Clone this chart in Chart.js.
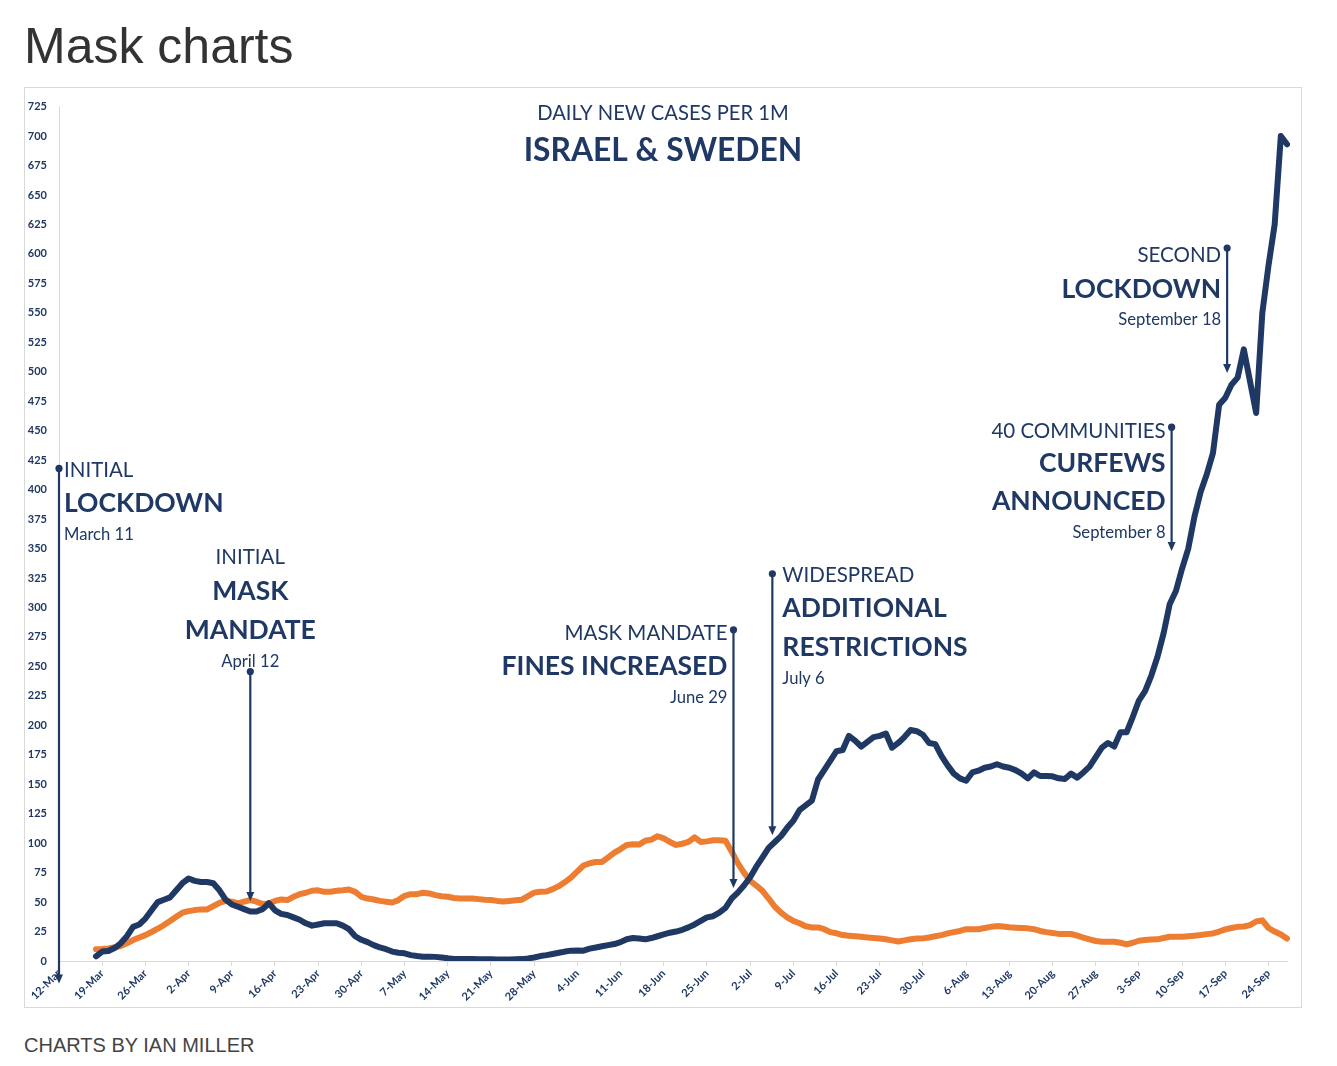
<!DOCTYPE html>
<html><head><meta charset="utf-8">
<script src="https://cdn.jsdelivr.net/npm/chart.js@4.4.0/dist/chart.umd.min.js"></script>
<style>
html,body{margin:0;padding:0;background:#fff;}
#title{position:absolute;left:24px;top:21px;font:50px "Liberation Sans",Arial,sans-serif;color:#333;line-height:50px;white-space:nowrap;}
#box{position:absolute;left:24px;top:87px;width:1278px;height:921px;box-sizing:border-box;border:1px solid #d9d9d9;}
#c{position:absolute;left:0;top:0;}
#foot{position:absolute;left:24px;top:1035px;font:20px "Liberation Sans",Arial,sans-serif;color:#444;line-height:20px;white-space:nowrap;}
</style></head>
<body>
<div id="title">Mask charts</div>
<div id="box"><canvas id="c" width="1276" height="919"></canvas></div>
<div id="foot">CHARTS BY IAN MILLER</div>
<script>
// ---- categories: daily dates 12-Mar .. 27-Sep ----
const months = ['Mar','Apr','May','Jun','Jul','Aug','Sep'];
const monthDays = [31,30,31,30,31,31,30];
const dates = [];
(function(){ let m=0, d=12; while(dates.length<200){ dates.push(d+'-'+months[m]); d++; if(d>monthDays[m]){d=1;m++;} } })();

// ---- series: daily new cases per 1M (7-day avg) ----
const israel = [
 null,null,null,null,null,null,4,8,8.5,11,
 15,21,29,31,36,43,50,52,54,60,
 66,70,68,67,67,66,60,52,48,46,
 44,42,42,44,49,43,40,39,37,35,
 32,30,31,32,32,32,30,27,21,18,
 16,13.5,11.5,10,8,7,6.5,5,4.2,3.7,
 3.7,3.5,3,2.3,1.8,1.7,1.7,1.6,1.5,1.5,
 1.4,1.3,1.3,1.3,1.4,1.6,2.2,3,4.2,5,
 6,7,8,8.8,9,8.8,10.5,11.5,12.5,13.5,
 14.4,16,18.5,19.5,19,18.4,19.5,21,22.5,24,
 25,26.5,28.5,31,34,37,38,41,45,53,
 58,64,71,80,88,96,101,106,113,119,
 128,132,136,154,162,170,178,179,191,187,
 182,186,190,191,193,181,185,190,196,195,
 192,185,184,174,166,159,155,153,160,161.5,
 164,165,167,165,164,162,159,155,160,157,
 157,156.7,155,154.5,159,155.6,160,165,173,181,
 185,182,194,194,207,221,229,242,258,278,
 303,314,333,350,377,398,413,431,472,478,
 489,495,519,492,465,550,590,625,700,693
];
const sweden = [
 null,null,null,null,null,null,10,10.2,10.7,11.6,
 12.7,15,17.8,20,22,24.6,27.4,30.5,33.9,37.5,
 41,42.3,43.2,43.8,43.8,46.6,49.4,51,50.3,48.8,
 50.3,51.7,50.3,48.3,48.8,51,52.2,51.7,54.5,56.7,
 57.9,59.6,60,58.7,58.7,59.6,60,60.7,58.7,54.5,
 53,52.2,51,50.3,49.7,51.7,55.3,56.7,56.7,57.9,
 57.3,55.9,55,54.5,53.5,53,53,53,52.5,52,
 51.7,51,50.5,51,51.5,52,55,58,58.7,59,
 61,63.5,67,71,76,81,83,84,84.1,88,
 92,95,98.5,99,98.8,102,103,105.9,104,101,
 98.5,99.5,101,105,101,101.5,102.5,102.5,102,93,
 83,75,68,64,59.5,53,46,41,37,34,
 32,29.5,28.5,28.5,27,24.5,23.5,22,21.5,21,
 20.5,20,19.5,19,18.4,17.5,16.5,17.5,18.5,19,
 19.2,20,21,22,23.4,24.5,25.5,27,27,27,
 28,29,29.6,29.3,28.7,28.3,28,27.7,27,25.5,
 24.5,23.8,23,22.9,22.9,21.5,19.8,18.3,17,16.4,
 16.4,16.4,15.5,14.1,15.5,17.2,17.8,18.2,18.4,19.5,
 20.6,20.6,20.6,21,21.5,22,22.8,23.4,25,26.8,
 28,29,29.3,30.5,33.5,34.5,28,25,22.5,19
];
const yMin = 0, yMax = 725, yStep = 25;

// ---- annotations (day index on x, value on y) ----
const headerLines = [['DAILY NEW CASES PER 1M','r',719],['ISRAEL & SWEDEN','h',687.7]];
const notes = [
 {day:0,     top:418, tip:-19,  align:'left',   lines:[['INITIAL','r',416],['LOCKDOWN','b',388],['March 11','s',361.6]]},
 {day:31,    top:245.6, tip:51, align:'center', lines:[['INITIAL','r',342.2],['MASK','b',313.4],['MANDATE','b',280.3],['April 12','s',254.1]]},
 {day:109.3, top:281, tip:62,   align:'right',  lines:[['MASK MANDATE','r',277.8],['FINES INCREASED','b',249.8],['June 29','s',223.6]]},
 {day:115.6, top:328.6, tip:106.7, align:'left', lines:[['WIDESPREAD','r',326.9],['ADDITIONAL','b',299],['RESTRICTIONS','b',265.9],['July 6','s',239.7]]},
 {day:180.3, top:453, tip:348,  align:'right',  lines:[['40 COMMUNITIES','r',449.7],['CURFEWS','b',421.8],['ANNOUNCED','b',389.6],['September 8','s',363.3]]},
 {day:189.3, top:605, tip:499,  align:'right',  lines:[['SECOND','r',598.8],['LOCKDOWN','b',570],['September 18','s',544.6]]}
];

const NAVY = '#1F3864', ORANGE = '#ED7D31', AXIS = '#d9d9d9';
const FONT = 'Lato, "Open Sans", sans-serif';
const styles = {r:'20.5px '+FONT, b:'bold 26.5px '+FONT, s:'16.6px '+FONT, h:'bold 31.8px '+FONT, hr:'20.2px '+FONT};

const annotPlugin = {
  id:'notes',
  afterDatasetsDraw(chart){
    const {ctx, scales:{x, y}} = chart;
    ctx.save();
    ctx.fillStyle = NAVY; ctx.strokeStyle = NAVY;
    ctx.textBaseline = 'middle';
    // header
    ctx.textAlign = 'center';
    headerLines.forEach(([t,s,v])=>{ ctx.font = styles[s==='r'?'hr':s]; ctx.fillText(t, chart.width/2, y.getPixelForValue(v)); });
    notes.forEach(n=>{
      const px = x.getPixelForValue(n.day);
      const pt = y.getPixelForValue(n.top), pb = y.getPixelForValue(n.tip);
      ctx.lineWidth = 2.2;
      ctx.beginPath(); ctx.moveTo(px, pt); ctx.lineTo(px, pb-7); ctx.stroke();
      ctx.beginPath(); ctx.arc(px, pt, 3.6, 0, Math.PI*2); ctx.fill();
      ctx.beginPath(); ctx.moveTo(px-4, pb-9); ctx.lineTo(px+4, pb-9); ctx.lineTo(px, pb); ctx.closePath(); ctx.fill();
      n.lines.forEach(([t,s,v])=>{
        ctx.font = styles[s];
        let tx = px;
        if(n.align==='left'){ ctx.textAlign='left'; tx = px + (n.day===0?5:10); }
        else if(n.align==='right'){ ctx.textAlign='right'; tx = px - 6; }
        else { ctx.textAlign='center'; }
        ctx.fillText(t, tx, y.getPixelForValue(v));
      });
    });
    ctx.restore();
  }
};

function build(){
  new Chart(document.getElementById('c'), {
    type:'line',
    data:{labels:dates, datasets:[
      {label:'Israel', data:israel, borderColor:NAVY, borderWidth:6, pointRadius:0, order:1, borderJoinStyle:'round', borderCapStyle:'round'},
      {label:'Sweden', data:sweden, borderColor:ORANGE, borderWidth:6, pointRadius:0, order:2, borderJoinStyle:'round', borderCapStyle:'round'}
    ]},
    options:{
      responsive:false, animation:false, devicePixelRatio:1,
      layout:{padding:{top:17, right:14, bottom:0, left:0}},
      plugins:{legend:{display:false}, tooltip:{enabled:false}},
      scales:{
        x:{type:'category', offset:false,
           grid:{drawOnChartArea:false, drawTicks:true, tickLength:5,
                 color:c=>(c.index%7===0)?AXIS:'rgba(0,0,0,0)', tickColor:c=>(c.index%7===0)?AXIS:'rgba(0,0,0,0)'},
           border:{display:true, color:AXIS, width:1},
           ticks:{autoSkip:false, maxRotation:45, minRotation:45, padding:1, color:NAVY,
                  font:{family:FONT, weight:'bold', size:11},
                  callback:(v,i)=> i%7===0 ? dates[i] : ''},
           afterFit:s=>{s.height=46;}
        },
        y:{min:yMin, max:yMax, grid:{display:false, drawTicks:false}, border:{display:true, color:AXIS, width:1},
           ticks:{stepSize:yStep, padding:12, color:NAVY, font:{family:FONT, weight:'bold', size:11}},
           afterFit:s=>{s.width=34;}
        }
      }
    },
    plugins:[annotPlugin]
  });
}
const fl = ['20.5px Lato','bold 26.5px Lato','16.6px Lato','bold 11px Lato'].map(f=>document.fonts.load(f).catch(()=>{}));
Promise.all(fl).then(build, build);
</script>
</body></html>
